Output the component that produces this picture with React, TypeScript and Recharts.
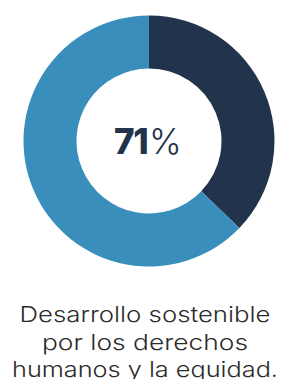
import React from 'react';
import { PieChart, Pie, Cell } from 'recharts';

// slice shares (dark slice starts at 12 o'clock, clockwise)
const segments = ['Logrado', 'Resto'];
const shares = [37.2, 62.8];
const colors = ['#22344b', '#398ebb'];
const centerValue = '71';
const captionLines = ['Desarrollo sostenible', 'por los derechos', 'humanos y la equidad.'];
const captionWidths = [251, 206, 266];

const data = segments.map((name, i) => ({ name, value: shares[i] }));

export default function App() {
  return (
    <div style={{ position: 'absolute', left: 0, top: 0, width: 287, height: 379, background: '#fff', overflow: 'hidden' }}>
      <PieChart width={287} height={280} margin={{ top: 0, right: 0, bottom: 0, left: 0 }}>
        <Pie
          data={data}
          dataKey="value"
          nameKey="name"
          cx={149}
          cy={141}
          innerRadius={72.5}
          outerRadius={125.5}
          startAngle={90}
          endAngle={-270}
          stroke="none"
          isAnimationActive={false}
        >
          {data.map((d, i) => (
            <Cell key={d.name} fill={colors[i]} />
          ))}
        </Pie>
      </PieChart>
      <svg width={287} height={379} style={{ position: 'absolute', left: 0, top: 0, pointerEvents: 'none' }}>
        <text x={148} y={153.5} textAnchor="middle" fontFamily="Inter, 'Open Sans', sans-serif" fill="#22344b">
          <tspan fontSize={35} fontWeight={800} letterSpacing={-1.5}>{centerValue}</tspan>
          <tspan fontSize={35} fontWeight={300} dx={2}>%</tspan>
        </text>
        {captionLines.map((line, i) => (
          <text
            key={line}
            x={145}
            y={322.3 + i * 27.2}
            textAnchor="middle"
            fontFamily="Inter, 'Open Sans', sans-serif"
            fontWeight={300}
            fontSize={22}
            fill="#2b2b2b"
            textLength={captionWidths[i]}
            lengthAdjust="spacingAndGlyphs"
          >
            {line}
          </text>
        ))}
      </svg>
    </div>
  );
}
